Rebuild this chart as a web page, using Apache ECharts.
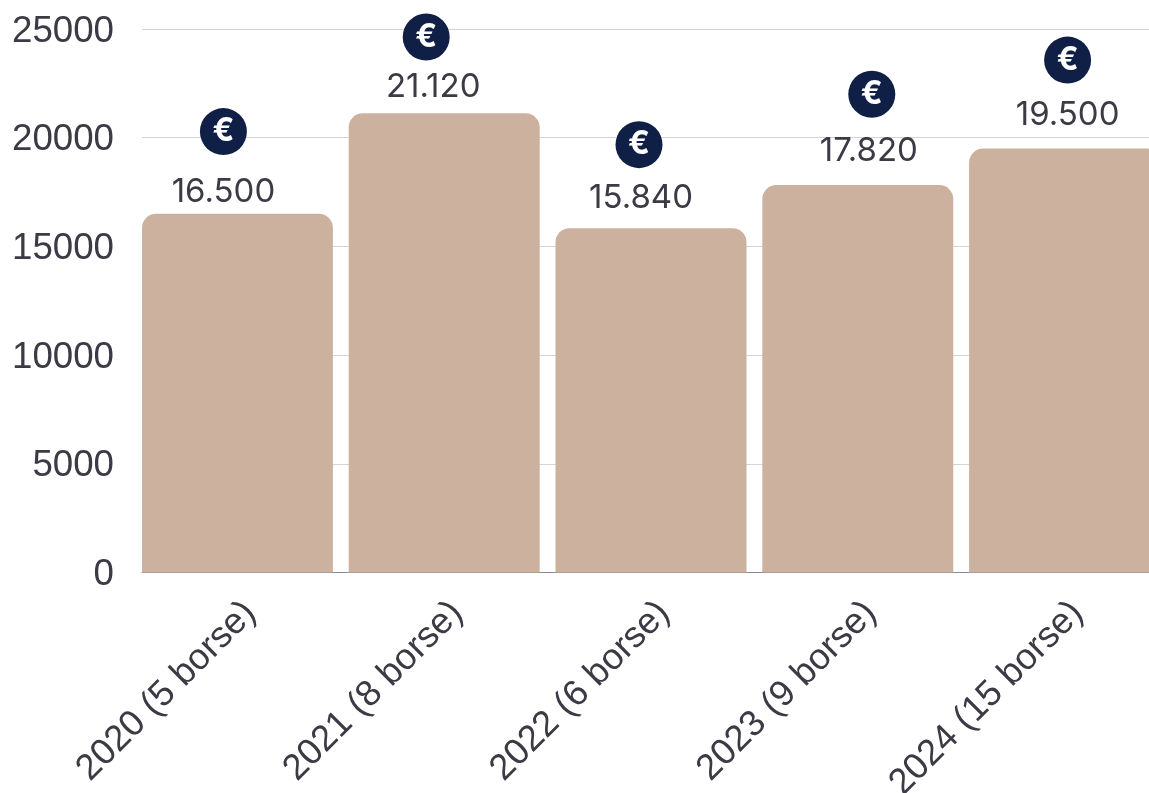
<!DOCTYPE html>
<html>
<head>
<meta charset="utf-8">
<style>
  html, body { margin: 0; padding: 0; background: #fff; overflow: hidden; }
  #chart { width: 1149px; height: 793px; }
</style>
<script src="https://cdn.jsdelivr.net/npm/echarts@6/dist/echarts.min.js"></script>
</head>
<body>
<div id="chart"></div>
<script>
const categories = ['2020 (5 borse)', '2021 (8 borse)', '2022 (6 borse)', '2023 (9 borse)', '2024 (15 borse)'];
const values = [16500, 21120, 15840, 17820, 19500];
// height of the euro badges, read against the value axis
const badgeValues = [20280, 24630, 19680, 22000, 23570];

// the labels and badges are hand placed in the original, these are the nudges
const labelNudges = [[-14, -5], [-11, -10], [-10, -14], [11, -18], [3, -17]];
const badgeNudgesX = [-22, -26, -20, 6, -5];

const textColor = '#3b3a45';
const chart = echarts.init(document.getElementById('chart'));

chart.setOption({
  animation: false,
  grid: { left: 142, top: 29, bottom: 220.5, width: 1034, outerBoundsMode: 'none' },
  xAxis: {
    type: 'category',
    data: categories,
    axisLine: { lineStyle: { color: '#8a8a92', width: 1 } },
    axisTick: { show: false },
    axisLabel: {
      rotate: 45,
      interval: 0,
      margin: 30,
      formatter: (v) => '{t|' + v + '}',
      rich: {
        t: {
          padding: [14, 0, 0, 0],
          color: textColor,
          fontFamily: 'Liberation Sans',
          fontSize: 36.4
        }
      }
    }
  },
  yAxis: {
    type: 'value',
    min: 0,
    max: 25000,
    interval: 5000,
    axisLine: { show: false },
    axisTick: { show: false },
    splitLine: { lineStyle: { color: '#d4d4d4', width: 1 } },
    axisLabel: {
      margin: 28,
      formatter: (v) => '{t|' + v + '}',
      rich: {
        t: {
          padding: [5, 0, 0, 0],
          color: textColor,
          fontFamily: 'Liberation Sans',
          fontSize: 36.7
        }
      }
    }
  },
  series: [
    {
      type: 'bar',
      barWidth: 191,
      barGap: 0,
      itemStyle: { color: '#cbb19e', borderRadius: [14, 14, 0, 0] },
      data: values.map((v, i) => ({
        value: v,
        label: {
          show: true,
          position: 'top',
          distance: 0,
          offset: labelNudges[i],
          color: textColor,
          fontFamily: 'Inter',
          fontWeight: 400,
          fontSize: 33,
          formatter: (p) => String(p.value).replace(/\B(?=(\d{3})+$)/g, '.')
        }
      }))
    },
    // empty spacer: pushes the real bar to the left edge of its band
    { type: 'bar', barWidth: 16, barGap: 0, data: [] },
    {
      type: 'scatter',
      symbol: 'circle',
      symbolSize: 47,
      itemStyle: { color: '#0f1f45', opacity: 1 },
      data: badgeValues.map((v, i) => ({
        value: v,
        symbolOffset: [badgeNudgesX[i], 0],
        label: {
          show: true,
          position: 'inside',
          formatter: '€',
          color: '#fff',
          fontFamily: 'Inter',
          fontWeight: 700,
          fontSize: 32
        }
      }))
    }
  ]
});
</script>
</body>
</html>
